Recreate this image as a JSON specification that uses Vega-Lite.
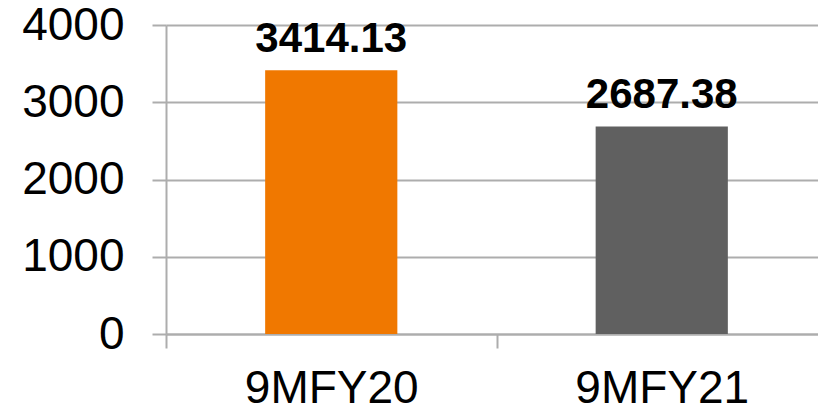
{
  "$schema": "https://vega.github.io/schema/vega-lite/v6.json",
  "autosize": {"type": "none"},
  "width": 652,
  "height": 309,
  "padding": {"left": 166, "top": 25, "right": 0, "bottom": 79},
  "background": "white",
  "config": {
    "view": {"stroke": null},
    "font": "Liberation Sans"
  },
  "data": {
    "values": [
      {"period": "9MFY20", "value": 3414.13, "label": "3414.13"},
      {"period": "9MFY21", "value": 2687.38, "label": "2687.38"}
    ]
  },
  "encoding": {
    "x": {
      "field": "period",
      "type": "nominal",
      "sort": null,
      "scale": {"range": [0, 661], "paddingInner": 0, "paddingOuter": 0},
      "axis": {
        "title": null,
        "labelAngle": 0,
        "labelFont": "Liberation Sans",
        "labelFontSize": 46,
        "labelColor": "#000000",
        "labelPadding": 18,
        "tickBand": "extent",
        "tickSize": 14,
        "tickColor": "#ADADAD",
        "tickWidth": 2,
        "domainColor": "#ADADAD",
        "domainWidth": 2,
        "grid": false
      }
    },
    "y": {
      "field": "value",
      "type": "quantitative",
      "scale": {"domain": [0, 4000], "nice": false},
      "axis": {
        "title": null,
        "values": [0, 1000, 2000, 3000, 4000],
        "format": "d",
        "labelFont": "Liberation Sans",
        "labelFontSize": 46,
        "labelColor": "#000000",
        "labelPadding": 28,
        "tickSize": 14,
        "tickColor": "#ADADAD",
        "tickWidth": 2,
        "domainColor": "#ADADAD",
        "domainWidth": 2,
        "grid": true,
        "gridColor": "#ADADAD",
        "gridWidth": 2
      }
    }
  },
  "layer": [
    {
      "mark": {"type": "bar", "width": {"band": 0.4}},
      "encoding": {
        "color": {
          "field": "period",
          "type": "nominal",
          "scale": {"domain": ["9MFY20", "9MFY21"], "range": ["#F07800", "#606060"]},
          "legend": null
        }
      }
    },
    {
      "mark": {
        "type": "text",
        "font": "Liberation Sans",
        "fontSize": 42,
        "fontWeight": "bold",
        "baseline": "alphabetic",
        "dy": -18,
        "color": "#000000"
      },
      "encoding": {
        "text": {"field": "label", "type": "nominal"}
      }
    }
  ]
}
